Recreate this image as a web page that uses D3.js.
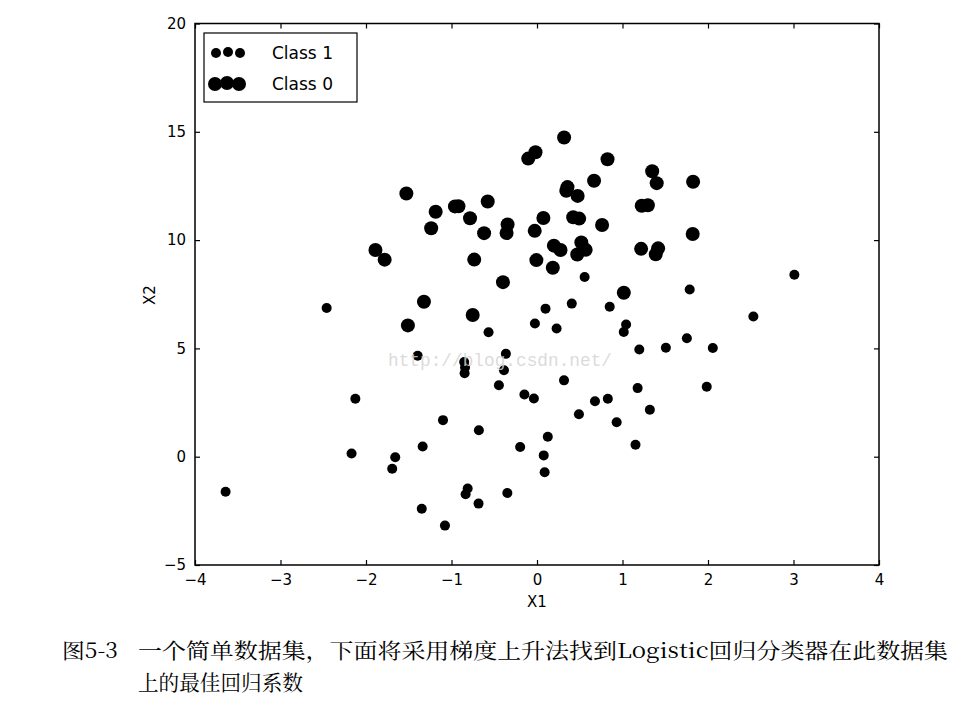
<!DOCTYPE html>
<html><head><meta charset="utf-8">
<script src="https://cdn.jsdelivr.net/npm/d3@7"></script>
<style>body{margin:0;background:#fff}</style>
</head><body>
<svg id="c" width="974" height="707"></svg>
<script>
const x1 = [-0.017612,-1.395634,-0.752157,-1.322371,0.423363,0.406704,0.667394,-2.460150,0.569411,-0.026632,0.850433,1.347183,1.176813,-1.781871,-0.566606,0.931635,-0.024205,-0.036453,-0.196949,1.014459,1.985298,-1.693453,-0.576525,-0.346811,-2.124484,1.217916,-0.733928,-3.642001,0.315985,1.416614,-0.386323,0.556921,1.224863,-1.347803,1.196604,0.275221,0.470575,-1.889567,-1.527893,-1.185247,-0.445678,1.042222,-0.618787,1.152083,0.828534,-1.237728,-0.683565,0.229456,-0.959885,0.492911,0.184992,-0.355715,-0.397822,0.824839,1.507278,0.099671,-0.344008,1.785928,-0.918801,-0.364009,-0.841722,0.490426,-0.007194,0.356107,0.342578,-0.810823,2.530777,1.296683,0.475487,-0.783277,0.074798,-1.337472,-0.102781,-0.147324,0.518389,1.015399,-1.658086,1.319944,2.056216,-0.851633,-1.510047,-1.076637,1.821096,3.010150,-1.099458,-0.834872,-0.846637,1.400102,1.752842,0.078557,0.089392,1.825662,0.197445,0.126117,-0.679797,0.677983,0.761349,-2.168791,1.388610,0.317029];
const x2 = [14.053064,4.662541,6.538620,7.152853,11.054677,7.067335,12.741452,6.866805,9.548755,10.427743,6.920334,13.175500,3.167020,9.097953,5.749003,1.589505,6.151823,2.690988,0.444165,5.754399,3.230619,-0.557540,11.778922,-1.678730,2.672471,9.597015,9.098687,-1.618087,3.523953,9.619232,3.989286,8.294984,11.587360,-2.406051,4.951851,9.543647,9.332488,9.542662,12.150579,11.309318,3.297303,6.105155,10.320986,0.548467,2.676045,10.549033,-2.166125,5.921938,11.555336,10.993324,8.721488,10.325976,8.058397,13.730343,5.027866,6.835839,10.717485,7.718645,11.560217,4.747300,4.119083,1.960539,9.075792,12.447863,12.281162,-1.466018,6.476801,11.607559,12.040035,11.009725,11.023650,0.468339,13.763651,2.874846,9.887035,7.571882,-0.027255,2.171228,5.019981,4.375691,6.061992,-3.181888,10.283990,8.401766,1.688274,-1.733869,3.849075,12.628781,5.468166,0.059736,-0.715300,12.693808,9.744638,0.922311,1.220530,2.556666,10.693862,0.143632,9.341997,14.739025];
const labels = [0,1,0,0,0,1,0,1,0,0,1,0,1,0,1,1,1,1,1,1,1,1,0,1,1,0,0,1,1,0,1,1,0,1,1,0,0,0,0,0,1,1,0,1,1,0,1,1,0,0,0,0,0,0,1,1,0,1,0,1,1,1,0,0,0,1,1,0,0,0,0,1,0,1,0,0,1,1,1,1,0,1,0,1,1,1,1,0,1,1,1,0,0,1,1,1,0,1,0,0];
const xTicks = [-4,-3,-2,-1,0,1,2,3,4];
const yTicks = [-5,0,5,10,15,20];
const legendLabels = ["Class 1","Class 0"];
const captionNum = "图5-3";
const captionLines = ["一个简单数据集，下面将采用梯度上升法找到Logistic回归分类器在此数据集","上的最佳回归系数"];
const watermark = "http://blog.csdn.net/";

const L=195, R=879, T=23.5, B=565;
const svg = d3.select("#c");
const x = d3.scaleLinear().domain([-4,4]).range([L,R]);
const y = d3.scaleLinear().domain([-5,20]).range([B,T]);
const font = "'DejaVu Sans', sans-serif";
const fmt = d => (d<0 ? "\u2212"+Math.abs(d) : ""+d);
const rad = c => c===1 ? 5 : 7;

// points
const pts = x1.map((v,i)=>({x:v,y:x2[i],c:labels[i]}));
svg.append("g").selectAll("circle").data(pts).join("circle")
  .attr("cx",d=>x(d.x)).attr("cy",d=>y(d.y)).attr("r",d=>rad(d.c)).attr("fill","#000");

// watermark (on top)
svg.append("text").attr("x",388).attr("y",366).attr("font-family","'Liberation Mono', 'DejaVu Sans Mono', monospace")
  .attr("font-size",18).attr("fill","#d4d4d4").attr("fill-opacity",0.85)
  .attr("textLength",224).attr("lengthAdjust","spacingAndGlyphs").text(watermark);

// axes (ticks inward)
const gB = svg.append("g").attr("transform",`translate(0,${B})`).call(d3.axisBottom(x).tickValues(xTicks).tickFormat(fmt).tickSizeInner(-5).tickSizeOuter(0).tickPadding(9));
const gT = svg.append("g").attr("transform",`translate(0,${T})`).call(d3.axisTop(x).tickValues(xTicks).tickFormat("").tickSizeInner(-5).tickSizeOuter(0));
const gL = svg.append("g").attr("transform",`translate(${L},0)`).call(d3.axisLeft(y).tickValues(yTicks).tickFormat(fmt).tickSizeInner(-5).tickSizeOuter(0).tickPadding(9));
const gR = svg.append("g").attr("transform",`translate(${R},0)`).call(d3.axisRight(y).tickValues(yTicks).tickFormat("").tickSizeInner(-5).tickSizeOuter(0));
[gB,gT,gL,gR].forEach(g=>{
  g.attr("font-family",font).attr("font-size",15);
  g.select(".domain").remove();
  g.selectAll("line").attr("stroke","#000").attr("stroke-width",1.2);
  g.selectAll("text").attr("fill","#000");
});
svg.append("rect").attr("x",L).attr("y",T).attr("width",R-L).attr("height",B-T).attr("fill","none").attr("stroke","#000").attr("stroke-width",1.5);

// axis labels
svg.append("text").attr("x",(L+R)/2).attr("y",607).attr("text-anchor","middle").attr("font-family",font).attr("font-size",15).text("X1");
svg.append("text").attr("transform","translate(155,295) rotate(-90)").attr("text-anchor","middle").attr("font-family",font).attr("font-size",15).text("X2");

// legend
const lg = svg.append("g");
lg.append("rect").attr("x",204).attr("y",33).attr("width",153).attr("height",69).attr("fill","#fff").attr("stroke","#000").attr("stroke-width",1.2);
const legCls = [1,0];
legCls.forEach((c,i)=>{
  const cy = 53 + i*31;
  [216,228,240].forEach((cx,j)=>{
    lg.append("circle").attr("cx",cx - (c===0? 1:0)).attr("cy",cy + (j===1?-1:0)).attr("r",rad(c)).attr("fill","#000");
  });
  lg.append("text").attr("x",272).attr("y",cy+6).attr("font-family",font).attr("font-size",17).text(legendLabels[i]);
});

// caption
const cf = "'Noto Serif CJK SC','Noto Sans CJK SC', serif";
svg.append("text").attr("x",62).attr("y",658).attr("font-family",cf).attr("font-size",21).attr("textLength",56).attr("lengthAdjust","spacingAndGlyphs").text(captionNum);
svg.append("text").attr("x",138).attr("y",658).attr("font-family",cf).attr("font-size",21).attr("textLength",810).attr("lengthAdjust","spacingAndGlyphs").text(captionLines[0]);
svg.append("text").attr("x",138).attr("y",690).attr("font-family",cf).attr("font-size",21).attr("textLength",165).attr("lengthAdjust","spacingAndGlyphs").text(captionLines[1]);
</script>
</body></html>
